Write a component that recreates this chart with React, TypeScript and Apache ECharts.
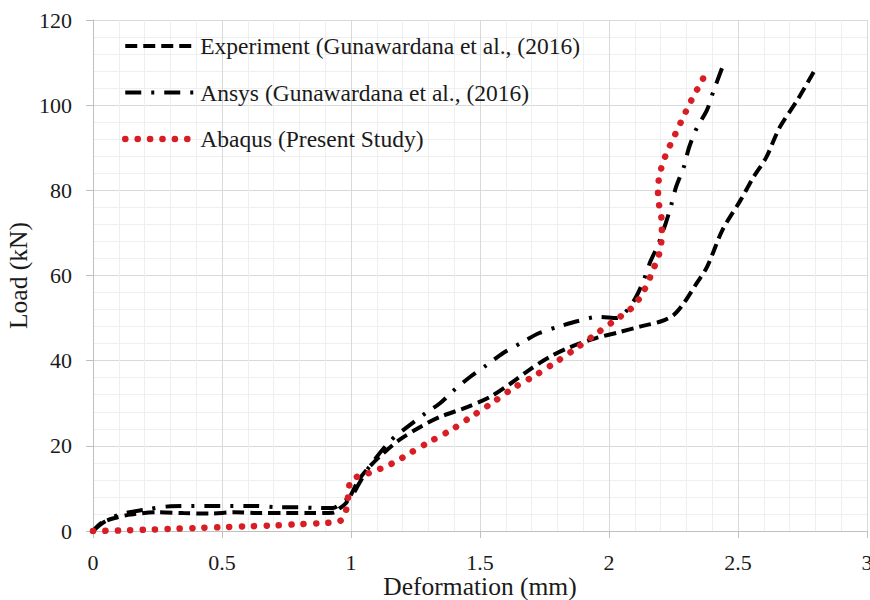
import React, { useEffect, useRef } from "react";
import * as echarts from "echarts";

const seriesNames = [
  "Experiment (Gunawardana et al., (2016)",
  "Ansys (Gunawardana et al., (2016)",
  "Abaqus (Present Study)",
];

const xTicks = [0, 0.5, 1, 1.5, 2, 2.5, 3];
const yTicks = [0, 20, 40, 60, 80, 100, 120];

const experiment: number[][] = [
  [0, 0], [0.03, 1.8], [0.08, 3], [0.15, 3.9], [0.25, 4.4], [0.35, 4.2], [0.45, 4.1],
  [0.55, 4.4], [0.65, 4.2], [0.75, 4.2], [0.85, 4.2], [0.93, 4.3], [0.96, 5.5],
  [0.98, 6.5], [1.0, 8.5], [1.03, 12], [1.07, 15], [1.13, 18.5], [1.19, 21.5],
  [1.27, 24.5], [1.345, 26.8], [1.45, 29.1], [1.54, 31.5], [1.62, 34.7], [1.69, 37.8],
  [1.77, 40.9], [1.85, 43.2], [1.95, 45.3], [2.04, 46.7], [2.12, 48], [2.2, 49.2],
  [2.25, 50.7], [2.29, 53.5], [2.34, 58.2], [2.38, 62], [2.44, 70.7], [2.51, 77.7],
  [2.56, 83.1], [2.61, 87.8], [2.66, 94.6], [2.73, 101.2], [2.8, 108.5],
];

const ansys: number[][] = [
  [0, 0], [0.04, 2], [0.1, 3.8], [0.2, 5], [0.3, 5.8], [0.47, 5.9], [0.63, 5.9],
  [0.71, 5.6], [0.79, 5.6], [0.87, 5.4], [0.93, 5.4], [0.97, 7], [1.0, 8], [1.03, 11],
  [1.07, 15], [1.15, 21], [1.22, 24.5], [1.29, 27.7], [1.345, 30], [1.4, 33.1],
  [1.46, 36.1], [1.527, 39], [1.59, 41.8], [1.66, 44.2], [1.73, 46.5], [1.81, 48.1],
  [1.88, 49.3], [1.96, 50.3], [2.03, 50], [2.09, 53.5], [2.13, 58.2], [2.16, 63.2],
  [2.19, 67.2], [2.22, 72.3], [2.24, 76.3], [2.26, 80.8], [2.29, 85.5], [2.31, 90],
  [2.34, 94.6], [2.38, 98.9], [2.405, 103.3], [2.44, 109],
];

const abaqus: number[][] = [
  [0, 0], [0.1, 0.1], [0.2, 0.3], [0.3, 0.5], [0.4, 0.7], [0.5, 0.9], [0.6, 1.1],
  [0.7, 1.3], [0.8, 1.6], [0.9, 1.9], [0.95, 2.2], [0.97, 3], [0.985, 6], [1.0, 12],
  [1.047, 13.1], [1.093, 14.1], [1.14, 15.3], [1.18, 16.5], [1.22, 18], [1.306, 21],
  [1.39, 23.8], [1.47, 27], [1.55, 30.2], [1.63, 33.6], [1.71, 36.4], [1.795, 39.7],
  [1.875, 43], [1.95, 46.3], [2.035, 50], [2.07, 51.4], [2.105, 53.5], [2.13, 55.9],
  [2.15, 58.2], [2.17, 61.3], [2.19, 64.1], [2.2, 66.7], [2.205, 70], [2.205, 72.3],
  [2.198, 75.4], [2.19, 78.2], [2.19, 80.8], [2.198, 84], [2.21, 86.7], [2.23, 89.7],
  [2.25, 92.3], [2.27, 94.9], [2.29, 97.5], [2.31, 100], [2.333, 102.8],
  [2.357, 105.2], [2.376, 108],
];

const FONT = "'Liberation Serif', 'Times New Roman', serif";
const RED = "#d81e24";

export default function App() {
  const ref = useRef<HTMLDivElement>(null);
  useEffect(() => {
    if (!ref.current) return;
    const chart = echarts.init(ref.current, undefined, { renderer: "svg" });
    const axisCommon = {
      axisLine: { show: true, lineStyle: { color: "#bfbfbf", width: 1 } },
      axisTick: { show: true, inside: false, length: 7, lineStyle: { color: "#bfbfbf" } },
      splitLine: { show: true, lineStyle: { color: "#d9d9d9", width: 1 } },
      minorTick: { show: false, splitNumber: 5 },
      minorSplitLine: { show: true, lineStyle: { color: "#efefef", width: 1 } },
      axisLabel: { color: "#1a1a1a", fontSize: 22, fontFamily: FONT },
      nameTextStyle: { color: "#1a1a1a", fontSize: 25.5, fontFamily: FONT },
      nameMoveOverlap: false,
    };
    chart.setOption({
      animation: false,
      backgroundColor: "#ffffff",
      grid: {
        left: 93,
        right: 3,
        top: 20,
        bottom: 69,
        containLabel: false,
        outerBoundsMode: "none",
      },
      legend: {
        orient: "vertical",
        left: 117,
        top: 29,
        padding: 5,
        itemWidth: 70,
        itemHeight: 14,
        itemGap: 22.5,
        itemStyle: { opacity: 0, borderWidth: 0 },
        lineStyle: { width: "inherit" },
        textStyle: { color: "#1a1a1a", fontSize: 23.5, fontFamily: FONT },
        data: seriesNames,
      },
      xAxis: {
        type: "value",
        min: xTicks[0],
        max: xTicks[xTicks.length - 1],
        interval: 0.5,
        name: "Deformation (mm)",
        nameLocation: "middle",
        nameGap: 42,
        ...axisCommon,
        axisLabel: { ...axisCommon.axisLabel, margin: 22, lineHeight: 18, showMaxLabel: true },
      },
      yAxis: {
        type: "value",
        min: yTicks[0],
        max: yTicks[yTicks.length - 1],
        interval: 20,
        name: "Load (kN)",
        nameLocation: "middle",
        nameGap: 62,
        ...axisCommon,
        axisLabel: { ...axisCommon.axisLabel, margin: 21 },
      },
      series: [
        {
          name: seriesNames[0],
          type: "line",
          data: experiment,
          symbol: "none",
          smooth: 0.3,
          lineStyle: { color: "#000000", width: 4, type: [12, 6], cap: "butt" },
          itemStyle: { color: "#000000" },
        },
        {
          name: seriesNames[1],
          type: "line",
          data: ansys,
          symbol: "none",
          smooth: 0.3,
          lineStyle: { color: "#000000", width: 4, type: [16, 10, 3, 10], cap: "butt" },
          itemStyle: { color: "#000000" },
        },
        {
          name: seriesNames[2],
          type: "line",
          data: abaqus,
          symbol: "none",
          smooth: 0.3,
          lineStyle: { color: RED, width: 6.5, type: [0.1, 12.3], cap: "round" },
          itemStyle: { color: RED },
        },
      ],
    });
    return () => chart.dispose();
  }, []);
  return (
    <div
      ref={ref}
      style={{ position: "fixed", left: 0, top: 0, width: 870, height: 600 }}
    />
  );
}
